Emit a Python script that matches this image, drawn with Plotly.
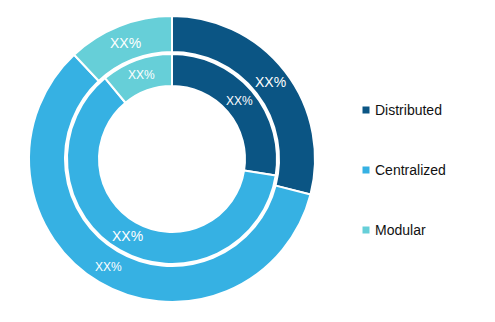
import math
import plotly.graph_objects as go

categories = ["Distributed", "Centralized", "Modular"]
colors = ["#0B5584", "#36B1E3", "#66CFD8"]
outer_values = [29, 59, 12]
inner_values = [27.5, 61.5, 11]
outer_text = ["XX%", "XX%", "XX%"]
inner_text = ["XX%", "XX%", "XX%"]
outer_text_sizes = [14, 12, 14]
inner_text_sizes = [12, 14, 12]

W, H = 495, 322
cx, cy = 172, 159  # pixel centre (from top)
R_OUT, R_OUT_HOLE = 143, 107
R_IN, R_IN_HOLE = 105, 73


def dom(r):
    x0, x1 = (cx - r) / W, (cx + r) / W
    yb = H - cy
    y0, y1 = (yb - r) / H, (yb + r) / H
    return dict(x=[x0, x1], y=[y0, y1])


fig = go.Figure()
fig.add_trace(go.Pie(
    labels=categories, values=outer_values, textinfo="none",
    marker=dict(colors=colors, line=dict(color="white", width=2)),
    hole=R_OUT_HOLE / R_OUT, sort=False, direction="clockwise", rotation=0,
    domain=dom(R_OUT), showlegend=False,
))
fig.add_trace(go.Pie(
    labels=categories, values=inner_values, textinfo="none",
    marker=dict(colors=colors, line=dict(color="white", width=2)),
    hole=R_IN_HOLE / R_IN, sort=False, direction="clockwise", rotation=0,
    domain=dom(R_IN), showlegend=False,
))

annotations = []


def ring_labels(values, texts, sizes, r0, r1):
    total = sum(values)
    cum = 0.0
    rm = (r0 + r1) / 2
    for v, t, s in zip(values, texts, sizes):
        mid = (cum + v / 2) / total * 2 * math.pi
        cum += v
        px = cx + rm * math.sin(mid)
        py = cy - rm * math.cos(mid)
        annotations.append(dict(text=t, xref="paper", yref="paper",
                                x=px / W, y=(H - py) / H,
                                xanchor="center", yanchor="middle", showarrow=False,
                                font=dict(size=s, color="white", family="Liberation Sans")))


ring_labels(outer_values, outer_text, outer_text_sizes, R_OUT_HOLE, R_OUT)
ring_labels(inner_values, inner_text, inner_text_sizes, R_IN_HOLE, R_IN)

# manual legend
leg_x_sq = 366
leg_x_txt = 373
leg_y = [110, 170, 230]
shapes = []
for cat, col, y in zip(categories, colors, leg_y):
    shapes.append(dict(type="rect", xref="paper", yref="paper",
                       x0=(leg_x_sq - 3.5) / W, x1=(leg_x_sq + 3.5) / W,
                       y0=(H - y - 3.5) / H, y1=(H - y + 3.5) / H,
                       fillcolor=col, line=dict(width=0)))
    annotations.append(dict(text=cat, xref="paper", yref="paper",
                            x=leg_x_txt / W, y=(H - y) / H,
                            xanchor="left", yanchor="middle", showarrow=False,
                            font=dict(size=14, color="#111111", family="Liberation Sans")))

fig.update_layout(
    width=W, height=H, margin=dict(l=0, r=0, t=0, b=0),
    paper_bgcolor="white", plot_bgcolor="white",
    shapes=shapes, annotations=annotations, showlegend=False,
)
fig.write_html("out.html")
